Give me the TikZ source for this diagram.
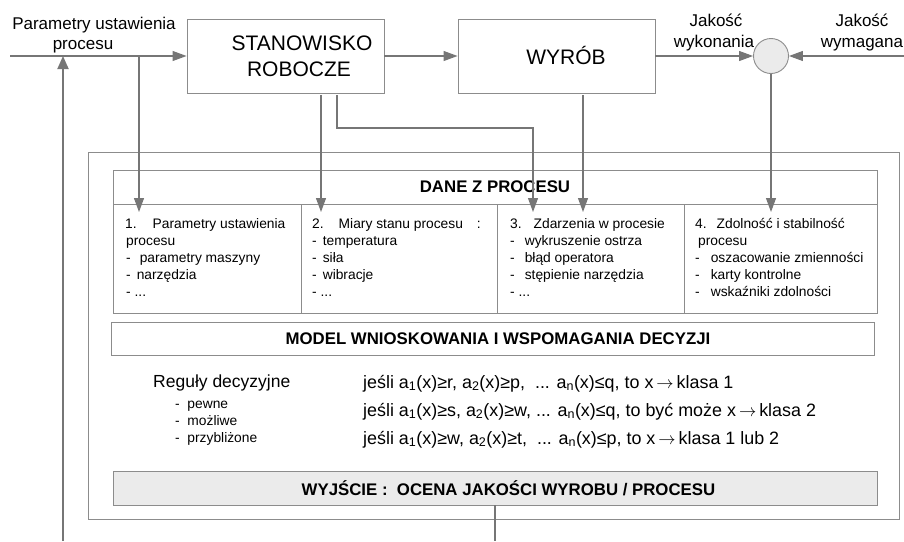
\documentclass[tikz,border=0pt]{standalone}
\usepackage{fontspec}
\setmainfont{Liberation Sans}
\usetikzlibrary{arrows.meta}
\definecolor{linegray}{HTML}{8C8C8C}
\definecolor{arrgray}{HTML}{767676}
\definecolor{fillgray}{HTML}{EBEBEB}
\newcommand\lsub[1]{\textsubscript{#1}}
\newcommand\imp{\,$\rightarrow$\,}
\begin{document}
\begin{tikzpicture}[x=1pt,y=-1pt,
  frame/.style={draw=linegray,line width=0.9pt,inner sep=0pt},
  flow/.style={draw=arrgray,line width=1.1pt,-{Triangle[length=14pt,width=10pt]}},
  wire/.style={draw=arrgray,line width=1.1pt},
  toptext/.style={font=\fontsize{17}{20}\selectfont,inner sep=0pt,anchor=base},
  bigtext/.style={font=\fontsize{21}{25.5}\selectfont,inner sep=0pt,anchor=base},
  head/.style={font=\bfseries\fontsize{16.8}{20}\selectfont,inner sep=0pt},
  cell/.style={font=\fontsize{13.8}{17}\selectfont,inner sep=0pt,anchor=base west},
  rule/.style={font=\fontsize{17.5}{20}\selectfont,inner sep=0pt,anchor=base west},
  ruleline/.style={font=\fontsize{17.9}{20}\selectfont,inner sep=0pt,anchor=base west},
  kind/.style={font=\fontsize{13.8}{16}\selectfont,inner sep=0pt,anchor=base west}]
\useasboundingbox (0,0) rectangle (904,541);

% --- process chain ---
\node[frame,minimum width=197pt,minimum height=74pt] (stan) at (285.5,56) {};
\node[bigtext] (stanA) at (302,50) {STANOWISKO};
\node[bigtext] (stanB) at (299,76) {ROBOCZE};
\node[frame,minimum width=197pt,minimum height=74pt] (wyrob) at (556.5,56) {};
\node[bigtext] (wyrobT) at (566,64) {WYRÓB};
\node[frame,circle,fill=fillgray,minimum size=35pt] (sum) at (771,56) {};

\node[toptext] (parA) at (94,29) {Parametry ustawienia};
\node[toptext] (parB) at (83,49) {procesu};
\node[toptext] (jwA) at (716,26) {Jakość};
\node[toptext] (jwB) at (714,47) {wykonania};
\node[toptext] (jrA) at (862,26) {Jakość};
\node[toptext] (jrB) at (862,47) {wymagana};

\coordinate (inL) at (10,56);
\coordinate (inR) at (904,56);
\draw[flow] (inL) -- (stan.west);
\draw[flow] (stan.east) -- (wyrob.west);
\draw[flow] (wyrob.east) -- (sum.west);
\draw[flow] (inR) -- (sum.east);

% --- decision support block ---
\node[frame,minimum width=811pt,minimum height=367pt] (outer) at (493.5,335.5) {};
\node[frame,minimum width=764pt,minimum height=143pt] (dane) at (495,241.5) {};
\draw[frame] (113,204) -- (877,204);
\draw[frame] (301,204) -- (301,313);
\draw[frame] (497,204) -- (497,313);
\draw[frame] (684,204) -- (684,313);
\node[head] (daneT) at (495,187) {DANE Z PROCESU};

\node[frame,minimum width=763pt,minimum height=33pt] (model) at (492.5,338.5) {};
\node[head] (modelT) at (498,338.5) {MODEL WNIOSKOWANIA I WSPOMAGANIA DECYZJI};
\node[frame,fill=fillgray,minimum width=764pt,minimum height=34pt] (wyj) at (495,488) {};
\node[head] (wyjT) at (508.5,488) {WYJŚCIE :\ \ OCENA JAKOŚCI WYROBU / PROCESU};

% column 1
\node[cell] (c1a) at (125,228) {1.\hspace{16pt}Parametry ustawienia};
\node[cell] (c1b) at (126,245) {procesu};
\node[cell] (c1c) at (126,262) {-\hspace{9pt}parametry maszyny};
\node[cell] (c1d) at (126,279) {-\hspace{6pt}narzędzia};
\node[cell] (c1e) at (126,296) {-\ ...};
% column 2
\node[cell] (c2a) at (312,228) {2.\hspace{15pt}Miary stanu procesu\hspace{14pt}:};
\node[cell] (c2b) at (312,245) {-\hspace{6pt}temperatura};
\node[cell] (c2c) at (312,262) {-\hspace{6pt}siła};
\node[cell] (c2d) at (312,279) {-\hspace{6pt}wibracje};
\node[cell] (c2e) at (312,296) {-\ ...};
% column 3
\node[cell] (c3a) at (510,228) {3.\hspace{12pt}Zdarzenia w procesie};
\node[cell] (c3b) at (510,245) {-\hspace{10pt}wykruszenie ostrza};
\node[cell] (c3c) at (510,262) {-\hspace{10pt}błąd operatora};
\node[cell] (c3d) at (510,279) {-\hspace{10pt}stępienie narzędzia};
\node[cell] (c3e) at (510,296) {-\ ...};
% column 4
\node[cell] (c4a) at (695,228) {4.\hspace{10pt}Zdolność i stabilność};
\node[cell] (c4b) at (698,245) {procesu};
\node[cell] (c4c) at (695,262) {-\hspace{11pt}oszacowanie zmienności};
\node[cell] (c4d) at (695,279) {-\hspace{11pt}karty kontrolne};
\node[cell] (c4e) at (695,296) {-\hspace{11pt}wskaźniki zdolności};

% decision rules
\node[rule] (reg) at (153,387) {Reguły decyzyjne};
\node[kind] (k1) at (175,408) {-\ \ pewne};
\node[kind] (k2) at (175,425) {-\ \ możliwe};
\node[kind] (k3) at (175,442) {-\ \ przybliżone};
\node[ruleline] (r1) at (363,388) {jeśli a\lsub{1}(x)≥r, a\lsub{2}(x)≥p,\ \ ... a\lsub{n}(x)≤q, to x\imp klasa 1};
\node[ruleline] (r2) at (363,416) {jeśli a\lsub{1}(x)≥s, a\lsub{2}(x)≥w, ... a\lsub{n}(x)≤q, to być może x\imp klasa 2};
\node[ruleline] (r3) at (363,444) {jeśli a\lsub{1}(x)≥w, a\lsub{2}(x)≥t,\ \ ... a\lsub{n}(x)≤p, to x\imp klasa 1 lub 2};

% --- data paths into the table ---
\coordinate (tap) at (139,56);
\coordinate (in1) at (139,212);
\coordinate (s1) at (321,95);
\coordinate (in2) at (321,212);
\coordinate (s2) at (337,95);
\coordinate (bend) at (337,128);
\coordinate (in3a) at (533,212);
\coordinate (s3) at (583,95);
\coordinate (in3b) at (583,212);
\coordinate (in4) at (771,212);
\draw[flow] (tap) -- (in1);
\draw[flow] (s1) -- (in2);
\draw[flow] (s2) -- (bend) -| (in3a);
\draw[flow] (s3) -- (in3b);
\draw[flow] (sum.south) -- (in4);

% --- output and feedback ---
\coordinate (outEnd) at (495,541);
\draw[wire] (wyj.south -| outEnd) -- (outEnd);
\coordinate (fbLow) at (63,541);
\coordinate (fbTop) at (63,56);
\draw[draw=arrgray,line width=1.8pt,-{Triangle[length=13pt,width=11pt]}] (fbLow) -- (fbTop);
\end{tikzpicture}
\end{document}
